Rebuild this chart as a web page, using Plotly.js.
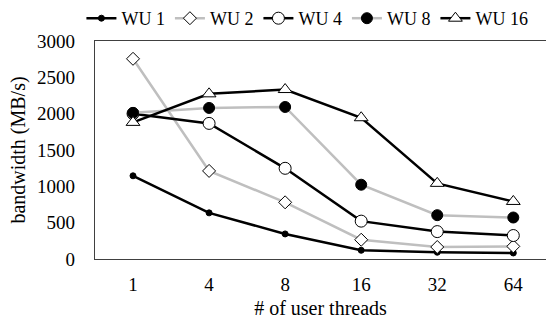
<!DOCTYPE html>
<html>
<head>
<meta charset="utf-8">
<script src="https://cdn.plot.ly/plotly-3.0.1.min.js"></script>
<style>
html,body{margin:0;padding:0;background:#fff;}
#chart{width:546px;height:320px;}
</style>
</head>
<body>
<div id="chart"></div>
<script>
const threads = ["1", "4", "8", "16", "32", "64"];
const wu1 = [1145, 635, 345, 120, 93, 83];
const wu2 = [2755, 1212, 780, 265, 165, 174];
const wu4 = [2000, 1866, 1248, 521, 377, 323];
const wu8 = [2011, 2079, 2092, 1022, 603, 571];
const wu16 = [1880, 2273, 2332, 1944, 1041, 792];
const seriesNames = ["WU 1", "WU 2", "WU 4", "WU 8", "WU 16"];
const yTicks = [0, 500, 1000, 1500, 2000, 2500, 3000];

const BLACK = "#000000", GRAY = "#bfbfbf";
const styles = [
  {line: BLACK, symbol: "circle", size: 6, fill: BLACK, lw: 1},
  {line: GRAY, symbol: "diamond", size: 10, fill: "#ffffff", lw: 1},
  {line: BLACK, symbol: "circle", size: 12, fill: "#ffffff", lw: 1},
  {line: GRAY, symbol: "circle", size: 11, fill: BLACK, lw: 1},
  {line: BLACK, symbol: "triangle-up", size: 12, fill: "#ffffff", lw: 1}
];
const values = [wu1, wu2, wu4, wu8, wu16];
const traces = values.map((v, i) => ({
  x: threads, y: v, name: seriesNames[i], type: "scatter", mode: "lines+markers",
  line: {color: styles[i].line, width: 2.5},
  marker: {symbol: styles[i].symbol, size: styles[i].size, color: styles[i].fill,
           line: {color: BLACK, width: styles[i].lw}}
}));

const FAM = "Liberation Serif";
const layout = {
  width: 546, height: 320,
  margin: {l: 95, r: 0, t: 38, b: 60.5},
  paper_bgcolor: "#ffffff", plot_bgcolor: "#ffffff",
  showlegend: true,
  legend: {orientation: "h", x: 0.471, xanchor: "center", y: 1.02, yanchor: "bottom",
           font: {family: FAM, size: 18, color: "black"}, tracegroupgap: 0, itemwidth: 30,
           bgcolor: "rgba(0,0,0,0)"},
  xaxis: {type: "category", range: [-0.5, 5.43], showgrid: false, zeroline: false,
          showline: true, linecolor: "#404040", linewidth: 1.3, mirror: true,
          ticks: "", ticklabelstandoff: 8, tickfont: {family: FAM, size: 19, color: "black"},
          title: {text: "# of user threads", font: {family: FAM, size: 20, color: "black"}, standoff: 7}},
  yaxis: {range: [0, 3000], tickvals: yTicks, showgrid: false, zeroline: false,
          showline: true, linecolor: "#404040", linewidth: 1.3, mirror: false,
          ticks: "", ticklabelstandoff: 15, tickfont: {family: FAM, size: 19, color: "black"},
          title: {text: "bandwidth (MB/s)", font: {family: FAM, size: 20, color: "black"}, standoff: 6}}
};
Plotly.newPlot("chart", traces, layout, {staticPlot: true, displayModeBar: false});
</script>
</body>
</html>
